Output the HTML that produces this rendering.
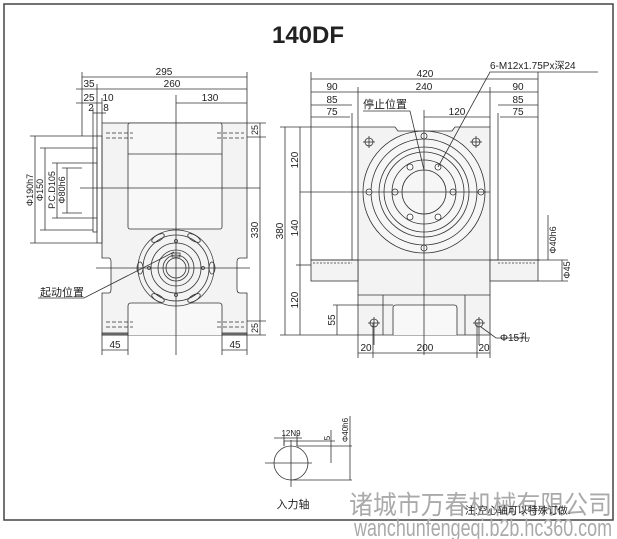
<!DOCTYPE html>
<html><head><meta charset="utf-8"><style>
html,body{margin:0;padding:0;background:#fff;width:617px;height:539px;overflow:hidden}
svg{display:block}
text{font-family:"Liberation Sans","Noto Sans CJK SC",sans-serif;fill:#222}
</style></head><body>
<svg width="617" height="539" viewBox="0 0 617 539" xmlns="http://www.w3.org/2000/svg">
<rect x="4" y="4" width="609" height="516" fill="none" stroke="#444" stroke-width="1.5"/>
<text x="308" y="43" font-size="24" font-weight="bold" text-anchor="middle" fill="#111">140DF</text>

<g stroke="#333" stroke-width="0.8" fill="none">
<!-- LEFT VIEW -->
<path d="M102 123 H247 V258 H240 Q237 258 237 262 V289 Q237 293 240 293 H247 V335 H102 V293 H109 Q111 293 111 289 V262 Q111 258 109 258 H102 Z" fill="#f3f3f3"/>
<rect x="128" y="123" width="94" height="106" rx="2" fill="#f8f8f8"/>
<line x1="128" y1="154" x2="222" y2="154"/>
<path d="M128 335 V306 Q128 303 131 303 H219 Q222 303 222 306 V335" fill="#f8f8f8"/>
<rect x="97" y="136" width="5" height="107"/>
<rect x="93" y="148" width="4" height="84"/>
<circle cx="176" cy="268" r="38" fill="#f3f3f3"/>
<circle cx="176" cy="268" r="33"/>
<circle cx="176" cy="268" r="25"/>
<circle cx="176" cy="268" r="18"/>
<circle cx="176" cy="268" r="13"/>
<circle cx="176" cy="268" r="10"/>
<rect x="172" y="253" width="8" height="4"/>
<circle cx="176" cy="241" r="1.5"/><circle cx="176" cy="295" r="1.5"/>
<circle cx="149" cy="268" r="1.5"/><circle cx="203" cy="268" r="1.5"/>
<ellipse cx="140" cy="268" rx="3" ry="6"/><ellipse cx="212" cy="268" rx="3" ry="6"/>
<ellipse cx="158" cy="238" rx="7" ry="3" transform="rotate(-30 158 238)"/>
<ellipse cx="194" cy="238" rx="7" ry="3" transform="rotate(30 194 238)"/>
<ellipse cx="158" cy="298" rx="7" ry="3" transform="rotate(30 158 298)"/>
<ellipse cx="194" cy="298" rx="7" ry="3" transform="rotate(-30 194 298)"/>
<line x1="176" y1="95" x2="176" y2="355"/>
<line x1="80" y1="188" x2="260" y2="188"/>
<line x1="96" y1="268" x2="250" y2="268"/>
<g stroke-dasharray="4 2"><line x1="106" y1="133" x2="133" y2="133"/><line x1="106" y1="138" x2="133" y2="138"/><line x1="217" y1="133" x2="244" y2="133"/><line x1="217" y1="138" x2="244" y2="138"/>
<line x1="106" y1="322" x2="133" y2="322"/><line x1="106" y1="327" x2="133" y2="327"/><line x1="217" y1="322" x2="244" y2="322"/><line x1="217" y1="327" x2="244" y2="327"/></g>
<rect x="102" y="333" width="26" height="2" fill="#888"/><rect x="222" y="333" width="25" height="2" fill="#888"/>
<!-- left dims -->
<line x1="82" y1="72" x2="82" y2="136"/><line x1="247" y1="72" x2="247" y2="123"/>
<line x1="82" y1="77" x2="247" y2="77"/>
<line x1="97" y1="84" x2="97" y2="136"/><line x1="76" y1="89" x2="247" y2="89"/>
<line x1="176" y1="103" x2="247" y2="103"/>
<line x1="76" y1="103" x2="102" y2="103"/><line x1="93" y1="113" x2="106" y2="113"/>
<line x1="102" y1="98" x2="102" y2="123"/><line x1="93" y1="108" x2="93" y2="148"/>
<line x1="30" y1="136" x2="97" y2="136"/><line x1="30" y1="243" x2="97" y2="243"/>
<line x1="35" y1="136" x2="35" y2="243"/>
<line x1="40" y1="148" x2="93" y2="148"/><line x1="40" y1="230" x2="93" y2="230"/><line x1="45" y1="148" x2="45" y2="230"/>
<line x1="52" y1="163" x2="97" y2="163"/><line x1="52" y1="218" x2="97" y2="218"/><line x1="57" y1="163" x2="57" y2="218"/>
<line x1="62" y1="168" x2="82" y2="168"/><line x1="62" y1="213" x2="82" y2="213"/><line x1="67" y1="168" x2="67" y2="213"/>
<line x1="247" y1="123" x2="266" y2="123"/><line x1="247" y1="335" x2="266" y2="335"/>
<line x1="247" y1="137" x2="266" y2="137"/><line x1="247" y1="321" x2="266" y2="321"/>
<line x1="260" y1="123" x2="260" y2="335"/>
<line x1="102" y1="335" x2="102" y2="355"/><line x1="128" y1="335" x2="128" y2="355"/>
<line x1="222" y1="335" x2="222" y2="355"/><line x1="247" y1="335" x2="247" y2="355"/>
<line x1="102" y1="350" x2="128" y2="350"/><line x1="222" y1="350" x2="247" y2="350"/>
<polyline points="38,298 84,298 174,252"/>

<!-- RIGHT VIEW -->
<path d="M358 127 H395 L398 131 H452 L455 127 H490 V335 H358 Z" fill="#f3f3f3"/>
<rect x="311" y="260" width="47" height="21" fill="#f3f3f3"/>
<rect x="490" y="260" width="48" height="21" fill="#f3f3f3"/>
<line x1="311" y1="127" x2="311" y2="260"/><line x1="352" y1="113" x2="352" y2="260"/>
<line x1="498" y1="113" x2="498" y2="260"/><line x1="538" y1="113" x2="538" y2="260"/>
<line x1="311" y1="260" x2="540" y2="260"/>
<line stroke-dasharray="2 1.5" x1="313" y1="263" x2="352" y2="263"/><line stroke-dasharray="2 1.5" x1="498" y1="263" x2="536" y2="263"/>
<line x1="358" y1="295" x2="490" y2="295"/>
<line x1="383" y1="295" x2="383" y2="335"/><line x1="465" y1="295" x2="465" y2="335"/>
<path d="M393 335 V308 Q393 305 396 305 H454 Q457 305 457 308 V335" fill="#f8f8f8"/>
<circle cx="424" cy="192" r="61" fill="#f6f6f6"/>
<circle cx="424" cy="192" r="53"/><circle cx="424" cy="192" r="45"/><circle cx="424" cy="192" r="40"/>
<circle cx="424" cy="192" r="32"/><circle cx="424" cy="192" r="22"/>
<g fill="#fff">
<circle cx="424" cy="136" r="3"/><circle cx="424" cy="248" r="3"/><circle cx="369" cy="192" r="3"/><circle cx="481" cy="192" r="3"/>
<circle cx="395" cy="192" r="3"/><circle cx="453" cy="192" r="3"/>
<circle cx="410" cy="167" r="3"/><circle cx="438" cy="167" r="3"/><circle cx="410" cy="217" r="3"/><circle cx="438" cy="217" r="3"/>
</g>
<line x1="424" y1="110" x2="424" y2="355"/>
<line x1="300" y1="192" x2="490" y2="192"/>
<circle cx="369" cy="142" r="4"/><line x1="363" y1="142" x2="375" y2="142"/><line x1="369" y1="136" x2="369" y2="148"/>
<circle cx="476" cy="142" r="4"/><line x1="470" y1="142" x2="482" y2="142"/><line x1="476" y1="136" x2="476" y2="148"/>
<circle cx="374" cy="323" r="4"/><line x1="368" y1="323" x2="380" y2="323"/><line x1="374" y1="317" x2="374" y2="345"/>
<circle cx="479" cy="323" r="4"/><line x1="473" y1="323" x2="485" y2="323"/><line x1="479" y1="317" x2="479" y2="345"/>
<!-- right dims -->
<line x1="311" y1="72" x2="311" y2="127"/><line x1="538" y1="72" x2="538" y2="113"/>
<line x1="311" y1="79" x2="538" y2="79"/>
<line x1="358" y1="87" x2="358" y2="127"/><line x1="490" y1="87" x2="490" y2="127"/>
<line x1="311" y1="92" x2="538" y2="92"/>
<line x1="311" y1="105" x2="352" y2="105"/><line x1="498" y1="105" x2="538" y2="105"/>
<line x1="311" y1="117" x2="350" y2="117"/><line x1="500" y1="117" x2="538" y2="117"/>
<line x1="424" y1="117" x2="490" y2="117"/>
<line x1="280" y1="127" x2="358" y2="127"/><line x1="280" y1="335" x2="358" y2="335"/>
<line x1="285" y1="127" x2="285" y2="335"/>
<line x1="300" y1="127" x2="300" y2="335"/>
<line x1="296" y1="265" x2="311" y2="265"/>
<line x1="333" y1="305" x2="393" y2="305"/><line x1="337" y1="305" x2="337" y2="335"/>
<line x1="538" y1="260" x2="568" y2="260"/><line x1="538" y1="281" x2="568" y2="281"/>
<line x1="562" y1="260" x2="562" y2="281"/><line x1="548" y1="215" x2="548" y2="260"/>
<line x1="358" y1="335" x2="358" y2="358"/><line x1="373" y1="323" x2="373" y2="358"/>
<line x1="477" y1="323" x2="477" y2="358"/><line x1="490" y1="335" x2="490" y2="358"/>
<line x1="358" y1="353" x2="490" y2="353"/>
<polyline points="598,72 490,72 438,167"/>
<polyline points="363,111 410,111 424,170"/>
<polyline points="481,327 496,338 530,338"/>

<!-- input shaft -->
<circle cx="291" cy="463" r="17"/>
<line x1="265" y1="463" x2="312" y2="463"/><line x1="291" y1="440" x2="291" y2="487"/>
<polyline points="284,446 284,441 297,441 297,446"/>
<line x1="274" y1="438" x2="302" y2="438"/><line x1="284" y1="434" x2="284" y2="446"/><line x1="297" y1="434" x2="297" y2="446"/>
<line x1="297" y1="441" x2="335" y2="441"/><line x1="297" y1="446" x2="352" y2="446"/>
<line x1="331" y1="430" x2="331" y2="463"/>
<line x1="291" y1="480" x2="352" y2="480"/>
<line x1="350" y1="416" x2="350" y2="480"/>
</g>

<g font-size="10">
<text x="164" y="75" text-anchor="middle">295</text>
<text x="89" y="87" text-anchor="middle">35</text>
<text x="172" y="87" text-anchor="middle">260</text>
<text x="210" y="101" text-anchor="middle">130</text>
<text x="89" y="101" text-anchor="middle">25</text>
<text x="108" y="101" text-anchor="middle">10</text>
<text x="91" y="111" text-anchor="middle">2</text>
<text x="106" y="111" text-anchor="middle">8</text>
<text transform="translate(33 190) rotate(-90)" text-anchor="middle" font-size="9">Φ190h7</text>
<text transform="translate(43 190) rotate(-90)" text-anchor="middle" font-size="9">Φ150</text>
<text transform="translate(55 190) rotate(-90)" text-anchor="middle" font-size="9">P.C.D105</text>
<text transform="translate(65 190) rotate(-90)" text-anchor="middle" font-size="9">Φ80h6</text>
<text transform="translate(258 230) rotate(-90)" text-anchor="middle">330</text>
<text transform="translate(258 130) rotate(-90)" text-anchor="middle" font-size="9">25</text>
<text transform="translate(258 328) rotate(-90)" text-anchor="middle" font-size="9">25</text>
<text x="115" y="348" text-anchor="middle">45</text>
<text x="235" y="348" text-anchor="middle">45</text>
<text x="40" y="296" font-size="11">起动位置</text>

<text x="425" y="77" text-anchor="middle">420</text>
<text x="332" y="90" text-anchor="middle">90</text>
<text x="424" y="90" text-anchor="middle">240</text>
<text x="518" y="90" text-anchor="middle">90</text>
<text x="332" y="103" text-anchor="middle">85</text>
<text x="518" y="103" text-anchor="middle">85</text>
<text x="332" y="115" text-anchor="middle">75</text>
<text x="518" y="115" text-anchor="middle">75</text>
<text x="457" y="115" text-anchor="middle">120</text>
<text x="363" y="108" font-size="11">停止位置</text>
<text x="490" y="69">6-M12x1.75Px深24</text>
<text transform="translate(283 231) rotate(-90)" text-anchor="middle">380</text>
<text transform="translate(298 160) rotate(-90)" text-anchor="middle">120</text>
<text transform="translate(298 228) rotate(-90)" text-anchor="middle">140</text>
<text transform="translate(298 300) rotate(-90)" text-anchor="middle">120</text>
<text transform="translate(335 320) rotate(-90)" text-anchor="middle">55</text>
<text transform="translate(556 240) rotate(-90)" text-anchor="middle" font-size="9">Φ40h6</text>
<text transform="translate(570 270) rotate(-90)" text-anchor="middle" font-size="9">Φ45</text>
<text x="366" y="351" text-anchor="middle">20</text>
<text x="425" y="351" text-anchor="middle">200</text>
<text x="484" y="351" text-anchor="middle">20</text>
<text x="500" y="341">Φ15孔</text>
<text x="291" y="436" text-anchor="middle" font-size="8">12N9</text>
<text transform="translate(330 438) rotate(-90)" text-anchor="middle" font-size="8">5</text>
<text transform="translate(348 430) rotate(-90)" text-anchor="middle" font-size="8">Φ40h6</text>
<text x="293" y="508" text-anchor="middle" font-size="11">入力轴</text>
</g>
<text x="349" y="514" font-size="26" textLength="263" lengthAdjust="spacingAndGlyphs" style="fill:#aaa">诸城市万春机械有限公司</text>
<text x="465" y="514" font-size="10">注:空心轴可以特殊订做.</text>
<text x="354" y="536" font-size="24" textLength="258" lengthAdjust="spacingAndGlyphs" style="fill:#aaa">wanchunfengeqi.b2b.hc360.com</text>
</svg>
</body></html>
